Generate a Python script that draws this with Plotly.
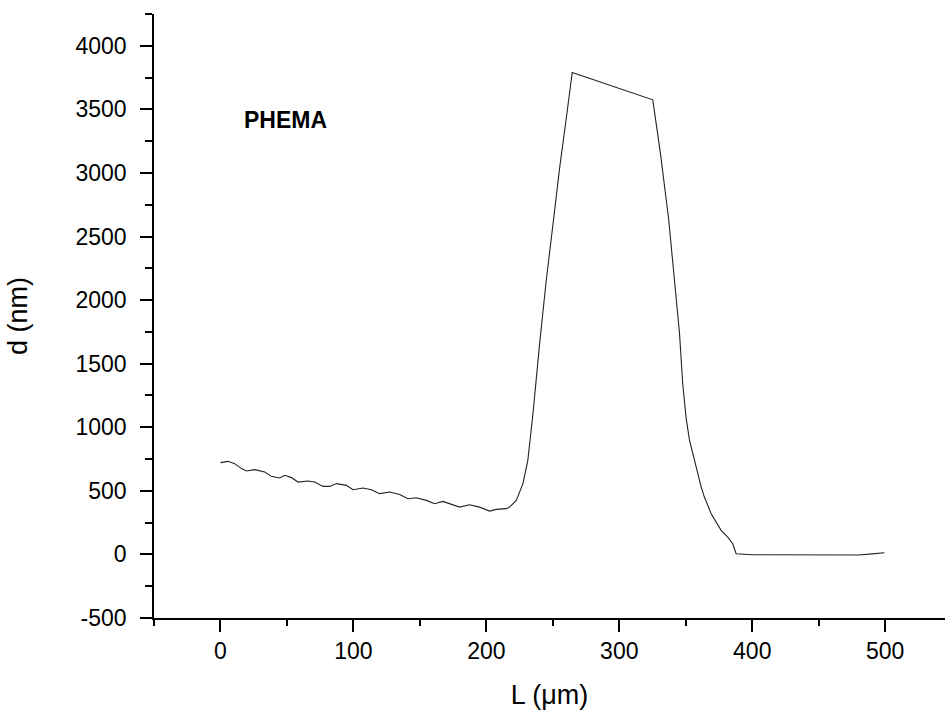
import plotly.graph_objects as go

L_um = [0, 5.7, 10.7, 15.8, 19.5, 25.8, 33.3, 38.3, 44.6, 48.3, 53.4, 58.3, 65.9, 70.9,
        77.1, 82.2, 87.2, 94.7, 99.7, 107.2, 113.5, 119.7, 127.3, 134.8, 141.0, 147.3,
        154.9, 161.1, 167.3, 174.8, 179.9, 187.4, 194.9, 202.4, 207.5, 215.0, 217.5,
        222.5, 227.5, 231.2, 235.0, 240.0, 245.0, 250.5, 255.0, 260.0, 264.6,
        325.2, 331.0, 337.2, 342.7, 345.3, 347.7, 350.3, 352.8, 355.3, 357.8, 361.6,
        364.0, 369.1, 376.6, 381.6, 385.3, 387.9, 400, 420, 440, 460, 468, 480, 490, 499.4]
d_nm = [722, 732, 714, 675, 656, 667, 648, 614, 601, 622, 604, 569, 577, 569,
        535, 535, 557, 543, 509, 522, 509, 478, 491, 472, 438, 446,
        425, 399, 417, 391, 372, 391, 372, 341, 354, 360, 372,
        425, 557, 740, 1100, 1650, 2150, 2630, 3030, 3420, 3790,
        3575, 3150, 2630, 2000, 1738, 1344, 1070, 898, 793, 687, 530,
        451, 320, 189, 136, 84, 5, -2, -3, -2, -6, -9, -5, 4, 13]

y_tickvals = [-500, 0, 500, 1000, 1500, 2000, 2500, 3000, 3500, 4000]
y_ticktext = ["-500", "0", "500", "1000", "1500", "2000", "2500", "3000", "3500", "4000"]

annotation_text = "PHEMA"
x_title = "L (μm)"
y_title = "d (nm)"

fig = go.Figure()
fig.add_trace(go.Scatter(x=L_um, y=d_nm, mode="lines",
                         line=dict(color="#222222", width=1.1),
                         showlegend=False, hoverinfo="skip"))

fig.add_annotation(x=16, y=3417, xref="x", yref="y", text="<b>%s</b>" % annotation_text,
                   showarrow=False, xanchor="left", yanchor="middle",
                   font=dict(family="Liberation Sans, Arial", size=23, color="black"))

axis_font = dict(family="Liberation Sans, Arial", size=23, color="black")
title_font = dict(family="Liberation Sans, Arial", size=27, color="black")

fig.update_layout(
    width=945, height=711,
    margin=dict(l=154, r=0, t=14, b=93),
    paper_bgcolor="white", plot_bgcolor="white",
    font=axis_font,
    xaxis=dict(range=[-50, 545], tick0=0, dtick=100, ticks="outside", ticklen=12,
               tickwidth=1.5, tickcolor="black", showline=True, linecolor="black",
               linewidth=1.5, showgrid=False, zeroline=False,
               minor=dict(dtick=50, tick0=0, ticks="outside", ticklen=6, tickwidth=1.5,
                          tickcolor="black", showgrid=False),
               title=dict(text=x_title, font=title_font, standoff=22),
               tickfont=axis_font, ticklabelstandoff=0),
    yaxis=dict(range=[-500, 4250], tickvals=y_tickvals, ticktext=y_ticktext,
               ticks="outside", ticklen=12,
               tickwidth=1.5, tickcolor="black", showline=True, linecolor="black",
               linewidth=1.5, showgrid=False, zeroline=False,
               minor=dict(dtick=250, tick0=0, ticks="outside", ticklen=7, tickwidth=1.5,
                          tickcolor="black", showgrid=False),
               title=dict(text=y_title, font=title_font, standoff=40),
               tickfont=axis_font, ticklabelstandoff=9),
)

fig.write_html("out.html")
